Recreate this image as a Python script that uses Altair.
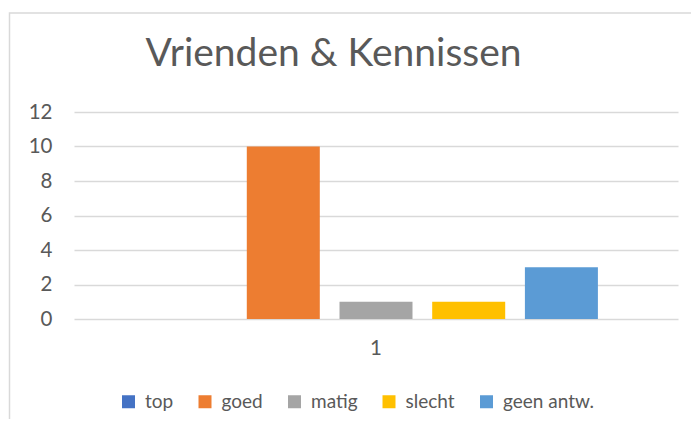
import altair as alt
import pandas as pd

series = ["top", "goed", "matig", "slecht", "geen antw."]
values = [0, 10, 1, 1, 3]
category = ["1", "1", "1", "1", "1"]
colors = ["#4472C4", "#ED7D31", "#A5A5A5", "#FFC000", "#5B9BD5"]
y_ticks = [0, 2, 4, 6, 8, 10, 12]

df = pd.DataFrame({"cat": category, "series": series, "value": values})

FONT = "Lato"
TXT = "#595959"

bars = alt.Chart(df).mark_bar().encode(
    x=alt.X("cat:N", title=None,
            scale=alt.Scale(paddingInner=0, paddingOuter=0),
            axis=alt.Axis(labelAngle=0, domain=False, ticks=False, tickSize=0,
                          labelPadding=19, labelFontSize=20.5, labelColor=TXT,
                          labelFont=FONT, grid=False)),
    xOffset=alt.XOffset("series:N", sort=series,
                        scale=alt.Scale(paddingInner=0.2125, paddingOuter=0.864)),
    y=alt.Y("value:Q", title=None,
            scale=alt.Scale(domain=[0, 12], nice=False),
            axis=alt.Axis(values=y_ticks, domain=False, ticks=False, tickSize=0,
                          labelPadding=22, labelFontSize=20.5, labelColor=TXT,
                          labelFont=FONT, grid=True, gridColor="#d9d9d9",
                          gridWidth=1.3)),
    color=alt.Color("series:N", sort=series,
                    scale=alt.Scale(domain=series, range=colors),
                    legend=alt.Legend(title=None, orient="none", direction="horizontal",
                                      legendX=45, legendY=280,
                                      symbolType="square", symbolSize=169,
                                      symbolStrokeWidth=0, labelFontSize=19,
                                      labelColor=TXT, labelFont=FONT,
                                      labelOffset=7, columnPadding=21.5, padding=0)),
)

border = alt.Chart(alt.Data(values=[{"a": 1}])).mark_rect(
    filled=False, stroke="#d9d9d9", strokeWidth=1.5
).encode(
    x=alt.value(-64.5), x2=alt.value(700), y=alt.value(-99), y2=alt.value(400)
)

chart = alt.layer(border, bars).properties(
    width=604, height=207,
    title=alt.TitleParams("Vrienden & Kennissen", font=FONT, fontSize=39,
                          fontWeight="normal", color=TXT, anchor="middle",
                          frame="group", baseline="alphabetic", offset=-93, dx=-42.5),
    autosize=alt.AutoSizeParams(type="none"),
    padding={"left": 66, "top": 104, "right": 13, "bottom": 100},
).configure_view(stroke=None)

chart.save("out.html", embed_options={"renderer": "svg", "actions": False})
